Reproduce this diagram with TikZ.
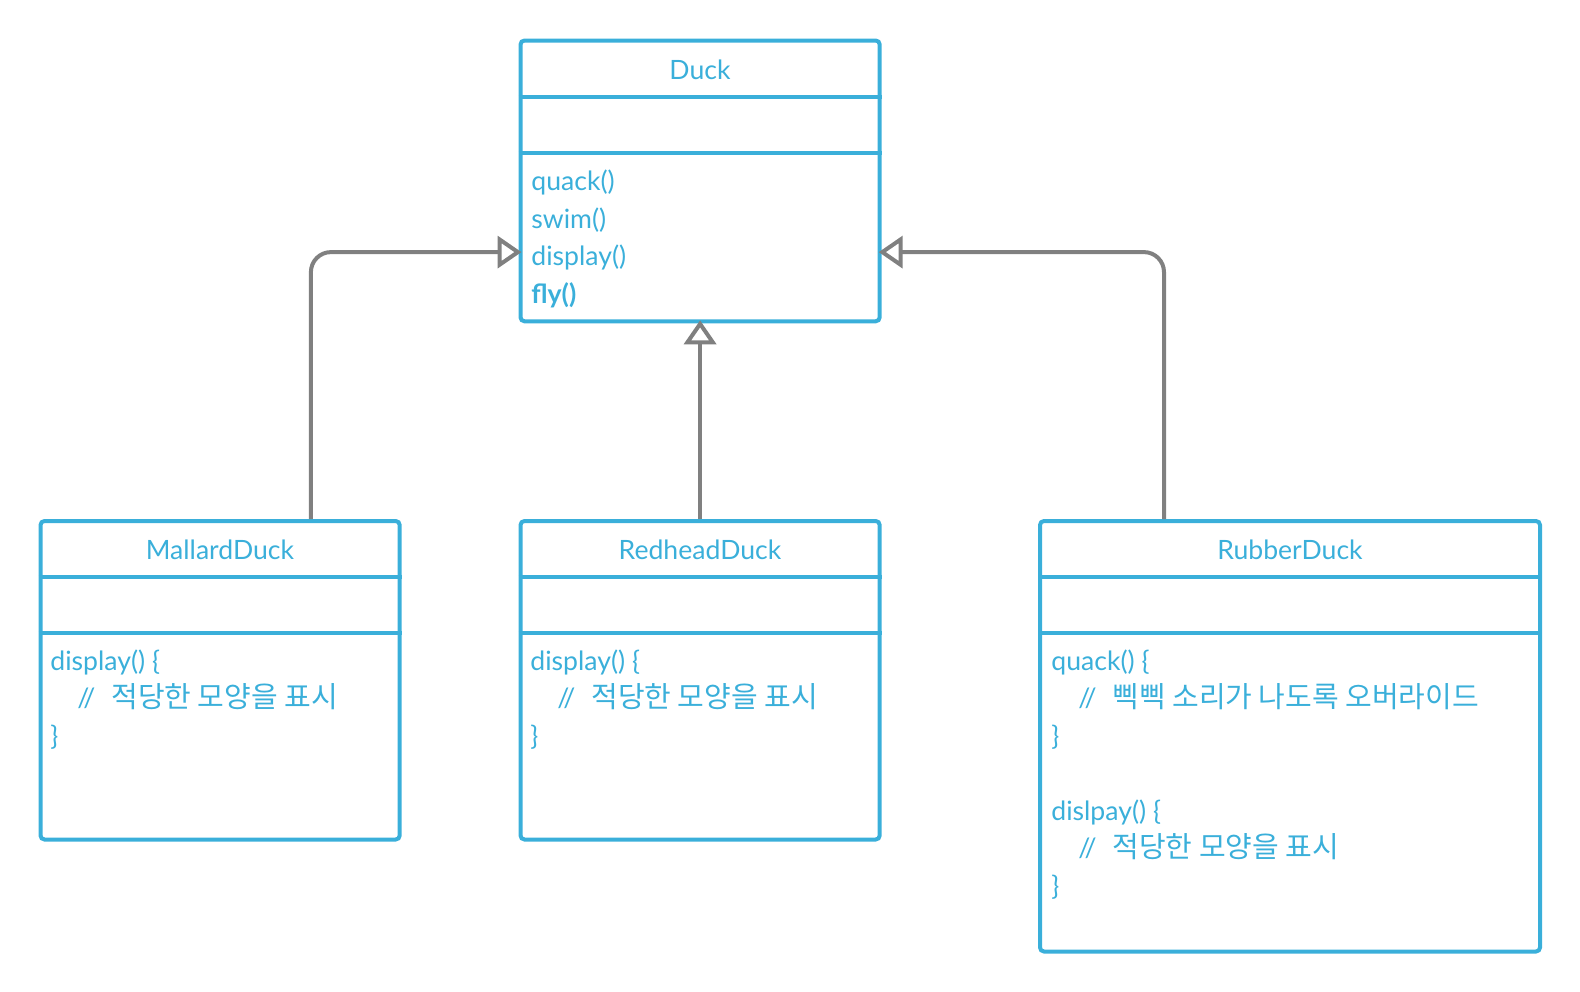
\documentclass[tikz,border=0pt]{standalone}
\usepackage{fontspec}
\setmainfont{Lato}
\newfontfamily\krfont[Scale=1.09]{Noto Sans CJK KR}
\usetikzlibrary{arrows.meta,calc}

\definecolor{umlblue}{HTML}{3AAFDA}
\definecolor{umlgray}{HTML}{808080}

\begin{document}
\begin{tikzpicture}[x=0.5pt, y=-0.5pt,
  % Node styles
  classbox/.style={rectangle, rounded corners=2pt, draw=umlblue, line width=2pt,
    anchor=north west, inner sep=0pt},
  classname/.style={text=umlblue, font=\fontsize{13.3}{16}\selectfont,
    anchor=base, inner sep=0pt},
  members/.style={text=umlblue, font=\fontsize{13.3}{18.75}\selectfont,
    align=left, anchor=base west, inner sep=0pt},
  divider/.style={draw=umlblue, line width=2pt},
  inherit/.style={draw=umlgray, line width=2pt, rounded corners=10pt, shorten >=-1.5pt,
    -{Triangle[open, length=12pt, width=16pt]}},
]
\useasboundingbox (0,0) rectangle (1580,991);

% === Class boxes ===
\node[classbox, minimum width=179.6pt, minimum height=140.4pt] (duck) at (518.5,38.5) {};
\node[classbox, minimum width=179.6pt, minimum height=159.25pt] (mallard) at (38.5,519) {};
\node[classbox, minimum width=179.6pt, minimum height=159.25pt] (redhead) at (518.5,519) {};
\node[classbox, minimum width=250pt, minimum height=215.25pt] (rubber) at (1038,519) {};

% === Compartment lines ===
\draw[divider] (duck.west |- 0,97) -- (duck.east |- 0,97);
\draw[divider] (duck.west |- 0,152.5) -- (duck.east |- 0,152.5);
\draw[divider] (mallard.west |- 0,577) -- (mallard.east |- 0,577);
\draw[divider] (mallard.west |- 0,632.5) -- (mallard.east |- 0,632.5);
\draw[divider] (redhead.west |- 0,577) -- (redhead.east |- 0,577);
\draw[divider] (redhead.west |- 0,632.5) -- (redhead.east |- 0,632.5);
\draw[divider] (rubber.west |- 0,577) -- (rubber.east |- 0,577);
\draw[divider] (rubber.west |- 0,632.5) -- (rubber.east |- 0,632.5);

% === Class names ===
\node[classname] (duck-name) at (700,79) {Duck};
\node[classname] (mallard-name) at (220,559) {MallardDuck};
\node[classname] (redhead-name) at (700,559) {RedheadDuck};
\node[classname] (rubber-name) at (1290,559) {RubberDuck};

% === Operations (anchored at the last baseline) ===
\node[members] (duck-ops) at (531,303) {quack()\\swim()\\display()\\\textbf{fly()}};
\node[members] (mallard-ops) at (50,745)
  {display() \{\\\hspace*{13.5pt}//\hspace{8pt}{\krfont 적당한 모양을 표시}\\\}};
\node[members] (redhead-ops) at (530,745)
  {display() \{\\\hspace*{13.5pt}//\hspace{8pt}{\krfont 적당한 모양을 표시}\\\}};
\node[members] (rubber-ops) at (1051,895)
  {quack() \{\\\hspace*{13.5pt}//\hspace{8pt}{\krfont 삑삑 소리가 나도록 오버라이드}\\\}\\[18.75pt]
   dislpay() \{\\\hspace*{13.5pt}//\hspace{8pt}{\krfont 적당한 모양을 표시}\\\}};

% === Inheritance arrows ===
\draw[inherit] ($(mallard.north west)!0.75!(mallard.north east)$)
  |- ($(duck.north west)!0.75!(duck.south west)$);
\draw[inherit] (redhead.north) -- (duck.south);
\draw[inherit] ($(rubber.north west)!0.25!(rubber.north east)$)
  |- ($(duck.north east)!0.75!(duck.south east)$);

\end{tikzpicture}
\end{document}
